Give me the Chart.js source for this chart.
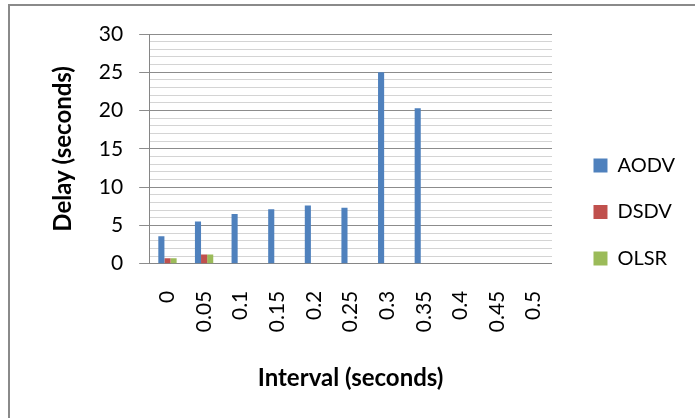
<!DOCTYPE html>
<html>
<head>
<meta charset="utf-8">
<script src="https://cdn.jsdelivr.net/npm/chart.js@4/dist/chart.umd.min.js"></script>
<style>
  html, body { margin: 0; padding: 0; background: #ffffff; }
  #wrap { width: 695px; height: 418px; position: relative; }
</style>
</head>
<body>
<div id="wrap"><canvas id="chart" width="695" height="418"></canvas></div>
<script>
// Interval between packets (seconds)
const intervals = ['0', '0.05', '0.1', '0.15', '0.2', '0.25', '0.3', '0.35', '0.4', '0.45', '0.5'];

// Average delay per routing protocol (seconds)
const aodvDelay = [3.6, 5.5, 6.5, 7.1, 7.6, 7.3, 25.0, 20.3, null, null, null];
const dsdvDelay = [0.7, 1.2, null, null, null, null, null, null, null, null, null];
const olsrDelay = [0.7, 1.2, null, null, null, null, null, null, null, null, null];

const yMin = 0;
const yMax = 30;
const yMajorStep = 5;

const FONT = 'Lato, "Liberation Sans", sans-serif';
const LEGEND_GAP = 15;  // extra room between plot area and legend
const LEGEND_LIFT = 4;  // move the legend items slightly up

// Thin grey frame around the whole chart
const framePlugin = {
  id: 'frame',
  beforeDraw(chart) {
    const ctx = chart.ctx;
    ctx.save();
    ctx.fillStyle = '#ffffff';
    ctx.fillRect(0, 0, chart.width, chart.height);
    ctx.strokeStyle = '#8a8a8a';
    ctx.lineWidth = 2;
    ctx.beginPath();
    ctx.moveTo(9, chart.height + 5);
    ctx.lineTo(9, 5);
    ctx.lineTo(chart.width + 5, 5);
    ctx.stroke();
    ctx.restore();
  }
};

// Widen the legend box and push its content right, leaving a gap after the plot
const legendGapPlugin = {
  id: 'legendGap',
  afterInit(chart) {
    const lg = chart.legend;
    if (!lg) return;
    const fit = lg.fit.bind(lg);
    lg.fit = function () { fit(); this.width += LEGEND_GAP; };
  },
  afterLayout(chart) {
    const lg = chart.legend;
    if (!lg) return;
    lg.left += LEGEND_GAP;
    lg.top -= LEGEND_LIFT;
    lg.bottom -= LEGEND_LIFT;
  }
};

new Chart(document.getElementById('chart'), {
  type: 'bar',
  data: {
    labels: intervals,
    datasets: [
      { label: 'AODV', data: aodvDelay, backgroundColor: '#4F81BD' },
      { label: 'DSDV', data: dsdvDelay, backgroundColor: '#C0504D' },
      { label: 'OLSR', data: olsrDelay, backgroundColor: '#9BBB59' }
    ]
  },
  options: {
    responsive: false,
    animation: false,
    devicePixelRatio: 1,
    layout: { padding: { top: 34, left: 49, right: 10, bottom: 20 } },
    datasets: { bar: { categoryPercentage: 0.5, barPercentage: 1.0 } },
    plugins: {
      tooltip: { enabled: false },
      legend: {
        position: 'right',
        labels: {
          boxWidth: 14,
          boxHeight: 14,
          padding: 26.5,
          color: '#000000',
          font: { family: FONT, size: 20 }
        }
      }
    },
    scales: {
      x: {
        grid: { display: false, drawTicks: false },
        border: { display: true, color: '#868686', width: 1 },
        ticks: {
          minRotation: 90,
          maxRotation: 90,
          padding: 27,
          color: '#000000',
          font: { family: FONT, size: 21 }
        },
        title: {
          display: true,
          text: 'Interval (seconds)',
          color: '#000000',
          font: { family: FONT, size: 24, weight: 'bold' },
          padding: { top: 5, bottom: 5 }
        }
      },
      y: {
        min: yMin,
        max: yMax,
        border: { display: true, color: '#868686', width: 1 },
        grid: {
          drawTicks: true,
          tickLength: 10,
          lineWidth: 1,
          color: (c) => (c.tick && c.tick.value % yMajorStep === 0) ? '#8c8c8c' : '#d4d4d4',
          tickColor: (c) => (c.tick && c.tick.value % yMajorStep === 0) ? '#8c8c8c' : 'rgba(0,0,0,0)'
        },
        ticks: {
          stepSize: 1,
          autoSkip: false,
          padding: 16,
          color: '#000000',
          font: { family: FONT, size: 21 },
          callback: (v) => (v % yMajorStep === 0 ? String(v) : '')
        },
        title: {
          display: true,
          text: 'Delay (seconds)',
          color: '#000000',
          font: { family: FONT, size: 24, weight: 'bold' },
          padding: { top: 0, bottom: 5 }
        }
      }
    }
  },
  plugins: [framePlugin, legendGapPlugin]
});
</script>
</body>
</html>
